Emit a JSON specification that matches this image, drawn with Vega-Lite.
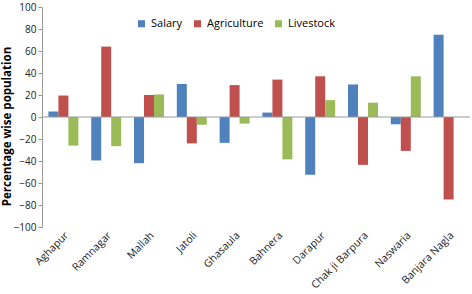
{
  "$schema": "https://vega.github.io/schema/vega-lite/v6.json",
  "width": 428,
  "height": 220,
  "autosize": {"type": "none"},
  "padding": {"left": 42, "top": 7, "right": 2, "bottom": 67},
  "config": {
    "font": "Open Sans",
    "view": {"stroke": null},
    "axis": {"labelFont": "Open Sans", "titleFont": "Open Sans", "labelColor": "#222", "titleColor": "#000"},
    "axisY": {"labelOverlap": false}
  },
  "data": {
    "values": [
      {"village": "Aghapur", "type": "Salary", "value": 5},
      {"village": "Aghapur", "type": "Agriculture", "value": 19.5},
      {"village": "Aghapur", "type": "Livestock", "value": -26},
      {"village": "Ramnagar", "type": "Salary", "value": -39.5},
      {"village": "Ramnagar", "type": "Agriculture", "value": 64},
      {"village": "Ramnagar", "type": "Livestock", "value": -26.5},
      {"village": "Mallah", "type": "Salary", "value": -42},
      {"village": "Mallah", "type": "Agriculture", "value": 20},
      {"village": "Mallah", "type": "Livestock", "value": 20.5},
      {"village": "Jatoli", "type": "Salary", "value": 30},
      {"village": "Jatoli", "type": "Agriculture", "value": -24},
      {"village": "Jatoli", "type": "Livestock", "value": -7},
      {"village": "Ghasaula", "type": "Salary", "value": -23.5},
      {"village": "Ghasaula", "type": "Agriculture", "value": 29},
      {"village": "Ghasaula", "type": "Livestock", "value": -6},
      {"village": "Bahnera", "type": "Salary", "value": 4},
      {"village": "Bahnera", "type": "Agriculture", "value": 34},
      {"village": "Bahnera", "type": "Livestock", "value": -38.5},
      {"village": "Darapur", "type": "Salary", "value": -52.5},
      {"village": "Darapur", "type": "Agriculture", "value": 37},
      {"village": "Darapur", "type": "Livestock", "value": 15.3},
      {"village": "Chak ji Barpura", "type": "Salary", "value": 29.6},
      {"village": "Chak ji Barpura", "type": "Agriculture", "value": -43.5},
      {"village": "Chak ji Barpura", "type": "Livestock", "value": 13},
      {"village": "Naswaria", "type": "Salary", "value": -6.6},
      {"village": "Naswaria", "type": "Agriculture", "value": -30.8},
      {"village": "Naswaria", "type": "Livestock", "value": 37},
      {"village": "Banjara Nagla", "type": "Salary", "value": 74.8},
      {"village": "Banjara Nagla", "type": "Agriculture", "value": -75},
      {"village": "Banjara Nagla", "type": "Livestock", "value": 0}
    ]
  },
  "encoding": {
    "y": {
      "field": "value", "type": "quantitative",
      "scale": {"domain": [-100, 100], "nice": false},
      "axis": {"title": "Percentage wise population", "titleFontWeight": "bold", "titleFontSize": 11.5,
               "titleX": -30, "titleY": 119, "titleAngle": -90, "titleBaseline": "bottom", "titleAlign": "center",
               "values": [-100, -80, -60, -40, -20, 0, 20, 40, 60, 80, 100], "grid": false, "labelOverlap": false,
               "labelBound": false,
               "domainColor": "#999", "tickColor": "#999", "tickSize": 4, "labelFontSize": 10, "labelPadding": 2}
    }
  },
  "layer": [
    {
      "mark": {"type": "bar", "stroke": null},
      "encoding": {
        "x": {
          "field": "village", "type": "nominal", "sort": null,
          "scale": {"paddingInner": 0.3, "paddingOuter": 0.15},
          "axis": {"title": null, "labelAngle": -45, "domain": false, "ticks": false, "labelFontSize": 10.5, "labelPadding": 3}
        },
        "xOffset": {"field": "type", "sort": ["Salary", "Agriculture", "Livestock"], "scale": {"paddingInner": 0}},
        "color": {
          "field": "type", "type": "nominal",
          "scale": {"domain": ["Salary", "Agriculture", "Livestock"], "range": ["#4F81BD", "#C0504D", "#9BBB59"]},
          "legend": {"title": null, "orient": "none", "legendX": 94, "legendY": 11, "direction": "horizontal",
                     "symbolType": "square", "symbolSize": 50, "labelFontSize": 11, "columnPadding": 9, "labelOffset": 4}
        }
      }
    },
    {
      "mark": {"type": "rule", "color": "#999", "strokeWidth": 1},
      "data": {"values": [{"value": 0}]},
      "encoding": {}
    }
  ]
}
